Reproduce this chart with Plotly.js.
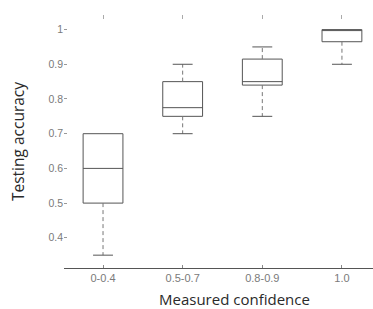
<!DOCTYPE html>
<html><head><meta charset="utf-8">
<script src="https://cdn.plot.ly/plotly-3.0.1.min.js"></script>
<style>html,body{margin:0;padding:0;background:#fff}#c{width:373px;height:309px}</style>
</head><body><div id="c"></div>
<script>
const categories = ['0-0.4', '0.5-0.7', '0.8-0.9', '1.0'];
const q1 = [0.5, 0.75, 0.84, 0.965];
const medians = [0.6, 0.775, 0.85, 1.0];
const q3 = [0.7, 0.85, 0.915, 1.0];
const lowerWhisker = [0.35, 0.7, 0.75, 0.9];
const upperWhisker = [0.7, 0.9, 0.95, 1.0];
const yTicks = [0.4, 0.5, 0.6, 0.7, 0.8, 0.9, 1];
const yTickText = ['0.4', '0.5', '0.6', '0.7', '0.8', '0.9', '1'];
const xTitle = 'Measured confidence';
const yTitle = 'Testing accuracy';

const pos = categories.map((c, i) => i);
const boxW = 0.5, capW = 0.25;

const wx = [], wy = [], cx = [], cy = [];
pos.forEach((p, i) => {
  if (lowerWhisker[i] < q1[i]) {
    wx.push(p, p, null); wy.push(q1[i], lowerWhisker[i], null);
    cx.push(p - capW / 2, p + capW / 2, null); cy.push(lowerWhisker[i], lowerWhisker[i], null);
  }
  if (upperWhisker[i] > q3[i]) {
    wx.push(p, p, null); wy.push(q3[i], upperWhisker[i], null);
    cx.push(p - capW / 2, p + capW / 2, null); cy.push(upperWhisker[i], upperWhisker[i], null);
  }
});

const traces = [
  {type: 'box', x: pos, q1: q1, median: medians, q3: q3, lowerfence: q1, upperfence: q3,
   width: boxW, whiskerwidth: 0, fillcolor: 'rgba(0,0,0,0)', line: {color: '#555', width: 1},
   boxpoints: false, hoverinfo: 'skip', showlegend: false},
  {type: 'scatter', mode: 'lines', x: wx, y: wy, line: {color: '#777', width: 1, dash: '4px,3px'},
   hoverinfo: 'skip', showlegend: false},
  {type: 'scatter', mode: 'lines', x: cx, y: cy, line: {color: '#555', width: 1},
   hoverinfo: 'skip', showlegend: false},
  {type: 'scatter', mode: 'lines', x: [0], y: [0.5], xaxis: 'x2', line: {width: 0},
   hoverinfo: 'skip', showlegend: false}
];

const xr = [-0.49, 3.39];
const layout = {
  width: 373, height: 309,
  margin: {l: 64, r: 0, t: 15, b: 41},
  paper_bgcolor: '#fff', plot_bgcolor: '#fff',
  font: {family: 'Liberation Sans, Arial, sans-serif', color: '#7a7a7a', size: 10},
  xaxis: {range: xr, tickvals: pos, ticktext: categories, showgrid: false, zeroline: false,
          showline: true, linecolor: '#555', linewidth: 1, ticks: 'inside', ticklen: 3,
          tickcolor: '#888', tickfont: {family: 'Liberation Sans, Arial, sans-serif', size: 11, color: '#7a7a7a'}},
  xaxis2: {range: xr, overlaying: 'x', side: 'top', tickvals: pos, showticklabels: false,
           showgrid: false, zeroline: false, showline: false, ticks: 'inside', ticklen: 4,
           tickcolor: '#aaa'},
  yaxis: {range: [0.313, 1.042], tickvals: yTicks, ticktext: yTickText, showgrid: false,
          zeroline: false, showline: false, ticks: 'inside', ticklen: 3, tickcolor: '#999',
          tickfont: {family: 'Liberation Sans, Arial, sans-serif', size: 10.5, color: '#7a7a7a'},
          title: {text: yTitle, font: {family: 'Open Sans, sans-serif', size: 15.5, color: '#2a2a2a'}, standoff: 19}},
  annotations: [{text: xTitle, xref: 'paper', yref: 'paper', x: 0.553, y: -0.122,
                 xanchor: 'center', yanchor: 'middle', showarrow: false,
                 font: {family: 'Open Sans, sans-serif', size: 15, color: '#2a2a2a'}}]
};
Plotly.newPlot('c', traces, layout, {staticPlot: true, displayModeBar: false});
</script></body></html>
